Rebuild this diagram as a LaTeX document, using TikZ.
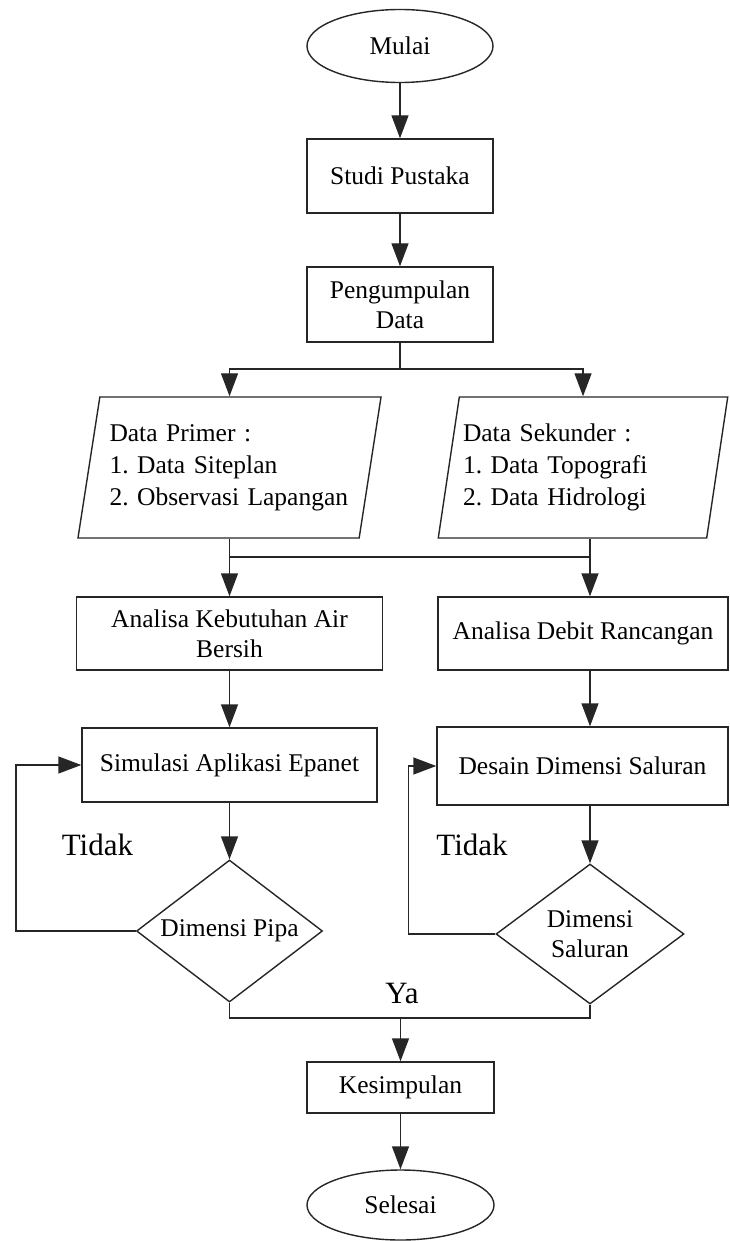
\documentclass[tikz,border=0pt]{standalone}
\usepackage{fontspec}
\setmainfont{Liberation Serif}
\usetikzlibrary{shapes.geometric,arrows.meta}
\frenchspacing

\newcommand{\teks}{\fontsize{25.5}{30}\selectfont}
\newcommand{\teksdata}{\fontsize{25.5}{32}\selectfont\hyphenpenalty=10000\relax}
\newcommand{\teksjawab}{\fontsize{31}{34}\selectfont}

\tikzset{
  garis/.style={line width=1.4pt, draw=black!85},
  panah/.style={garis, -{Triangle[length=23pt,width=17pt]}},
  kotak/.style={rectangle, draw=black!85, line width=1.4pt, align=center, inner sep=2pt, font=\teks},
  oval/.style={ellipse, draw=black!85, line width=1.4pt, inner sep=1pt, font=\teks},
  datain/.style={trapezium, trapezium left angle=77, trapezium right angle=103,
    trapezium stretches=true, minimum height=141pt, draw=black!85, line width=1.4pt,
    text width=240pt, align=left, inner sep=1pt, font=\teksdata},
  cek/.style={diamond, shape aspect=1.3, draw=black!85, line width=1.4pt, align=center,
    inner sep=1pt, font=\teks},
  jawab/.style={inner sep=0pt, font=\teksjawab}
}

\begin{document}
\begin{tikzpicture}[x=1pt,y=-1pt]
\useasboundingbox (0,0) rectangle (729,1241);

%Shape: Ellipse
\node[oval, minimum width=186pt, minimum height=73pt] (mulai) at (400,46) {Mulai};
%Shape: Rectangle
\node[kotak, minimum width=186pt, minimum height=74pt] (studi) at (400,176) {Studi Pustaka};
\node[kotak, minimum width=186pt, minimum height=75pt] (kumpul) at (400,304.5) {Pengumpulan\\Data};
%Shape: Parallelogram
\node[datain, minimum width=304pt] (primer) at (229.5,467.5) {Data Primer :\\1. Data Siteplan\\2. Observasi Lapangan};
\node[datain, minimum width=290pt] (sekunder) at (583,467.5) {Data Sekunder :\\1. Data Topografi\\2. Data Hidrologi};
%Shape: Rectangle
\node[kotak, minimum width=306pt, minimum height=73pt] (butuh) at (229.5,633.5) {Analisa Kebutuhan Air\\Bersih};
\node[kotak, minimum width=290pt, minimum height=73pt] (debit) at (583,633.5) {Analisa Debit Rancangan};
\node[kotak, minimum width=295pt, minimum height=74pt] (epanet) at (229.5,765) {Simulasi Aplikasi Epanet};
\node[kotak, minimum width=291pt, minimum height=78pt] (desain) at (582.5,766) {Desain Dimensi Saluran};
%Shape: Diamond
\node[cek, minimum width=186pt, minimum height=142pt] (pipa) at (229.5,931) {Dimensi Pipa};
\node[cek, minimum width=188pt, minimum height=140pt] (saluran) at (590,934) {Dimensi\\Saluran};
%Shape: Rectangle
\node[kotak, minimum width=187pt, minimum height=51pt] (simpul) at (400.5,1087.5) {Kesimpulan};
%Shape: Ellipse
\node[oval, minimum width=187pt, minimum height=70pt] (selesai) at (400.5,1205) {Selesai};

% Text Node
\node[jawab] (tidaka) at (97.5,845) {Tidak};
\node[jawab] (tidakb) at (472,845) {Tidak};
\node[jawab] (ya) at (402,993) {Ya};

%Straight Lines
\draw[panah] (mulai) -- (studi);
\draw[panah] (studi) -- (kumpul);
\coordinate (bagi) at (400,369);
\draw[garis] (kumpul) -- (bagi);
\draw[panah] (bagi) -| (primer.north);
\draw[panah] (bagi) -| (sekunder.north);

\coordinate (gabung) at (400,557);
\draw[garis] (primer.center |- primer.south) -- (primer.center |- gabung) -- (saluran.center |- gabung) -- (saluran.center |- sekunder.south);
\draw[panah] (butuh.north |- gabung) -- (butuh.north);
\draw[panah] (saluran.center |- gabung) -- (saluran.center |- debit.north);

\draw[panah] (butuh) -- (epanet);
\draw[panah] (saluran.center |- debit.south) -- (saluran.center |- desain.north);
\draw[panah] (epanet) -- (pipa);
\draw[panah] (saluran.center |- desain.south) -- (saluran.north);

% loop back
\draw[panah] (pipa.west) -- ++(-120,0) |- (epanet.west);
\draw[panah] (saluran.west) -- ++(-87,0) |- (desain.west);

\coordinate (temu) at (400.5,1018);
\draw[garis] (pipa.south) |- (temu) -| (saluran.south);
\draw[panah] (temu) -- (simpul);
\draw[panah] (simpul) -- (selesai);

\end{tikzpicture}
\end{document}
